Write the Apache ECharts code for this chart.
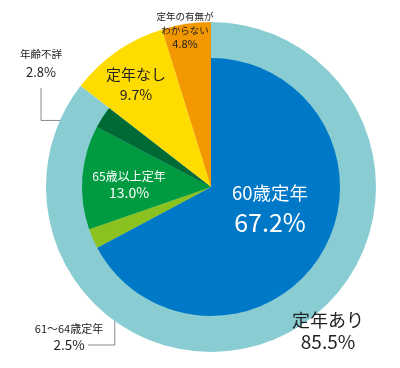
<!DOCTYPE html>
<html><head><meta charset="utf-8">
<script src="https://cdn.jsdelivr.net/npm/echarts@6/dist/echarts.min.js"></script>
<style>html,body{margin:0;padding:0;background:#fff}#c{width:400px;height:368px}</style>
</head><body><div id="c"></div>
<script>
// ---- data ----
const outerNames = ['定年あり', '定年なし', '定年の有無が\nわからない'];
const outerValues = [85.5, 9.7, 4.8];
const innerNames = ['60歳定年', '61～64歳定年', '65歳以上定年', '年齢不詳'];
const innerValues = [67.2, 2.5, 13.0, 2.8];

// ---- style ----
const outerColors = ['#89cdd3', '#ffdc00', '#f39800'];
const innerColors = ['#0078c8', '#8cc220', '#009a41', '#006a35'];
const FONT = 'Noto Sans CJK JP';
const CX = 211, CY = 187, R_OUT = 165, R_IN = 129;

const fillerValue = outerValues.slice(1).reduce((a, b) => a + b, 0);
const innerTotal = innerValues.reduce((a, b) => a + b, 0) + fillerValue;

function anchor(idx, r) {
  let cum = 0;
  for (let i = 0; i < idx; i++) cum += innerValues[i];
  const mid = (cum + innerValues[idx] / 2) / innerTotal * Math.PI * 2;
  return [CX + r * Math.sin(mid), CY - r * Math.cos(mid)];
}

const fmt = p => {
  const parts = p.name.split('\n');
  return parts.map(s => '{a|' + s + '}').join('\n') + '\n{b|' + p.value.toFixed(1) + '%}';
};

// label layouts (positions of annotation text)
const outerLabelCfg = [
  { x: 328, y: 331, rich: { a: { fontSize: 18, lineHeight: 22, color: '#222' }, b: { fontSize: 19, lineHeight: 22, color: '#222' } } },
  { x: 136, y: 84.5, rich: { a: { fontSize: 15, lineHeight: 20, color: '#222' }, b: { fontSize: 14, lineHeight: 21, color: '#222' } } },
  { x: 185, y: 30, rich: { a: { fontSize: 9.5, lineHeight: 14, color: '#222' }, b: { fontSize: 11, lineHeight: 14, color: '#222' } } }
];
const innerLabelCfg = [
  { x: 270, y: 209, rich: { a: { fontSize: 18.5, lineHeight: 26, color: '#fff' }, b: { fontSize: 25, lineHeight: 32, color: '#fff' } } },
  { x: 69, y: 337, rich: { a: { fontSize: 11, lineHeight: 16, color: '#222' }, b: { fontSize: 13.5, lineHeight: 16, color: '#222' } } },
  { x: 129, y: 184.5, rich: { a: { fontSize: 12, lineHeight: 16, color: '#fff' }, b: { fontSize: 14, lineHeight: 17, color: '#fff' } } },
  { x: 41, y: 63.5, rich: { a: { fontSize: 10.5, lineHeight: 17, color: '#222' }, b: { fontSize: 13, lineHeight: 19, color: '#222' } } }
];

const outerData = outerNames.map((n, i) => ({
  name: n, value: outerValues[i],
  itemStyle: { color: outerColors[i] },
  label: { show: true, position: i === 0 ? 'outside' : 'inside', formatter: fmt, rich: outerLabelCfg[i].rich, fontFamily: FONT },
  labelLine: { show: false }
}));

const leader = { 1: true, 3: true };
const innerData = innerNames.map((n, i) => ({
  name: n, value: innerValues[i],
  itemStyle: { color: innerColors[i] },
  label: { show: true, position: leader[i] ? 'outside' : 'inside', formatter: fmt, rich: innerLabelCfg[i].rich, fontFamily: FONT },
  labelLine: { show: !!leader[i], lineStyle: { color: '#8a8a8a', width: 1 } }
}));
innerData.push({ name: 'filler', value: fillerValue, itemStyle: { color: 'rgba(0,0,0,0)' }, label: { show: false }, labelLine: { show: false }, silent: true, emphasis: { disabled: true } });

const chart = echarts.init(document.getElementById('c'), null, { renderer: 'canvas' });
chart.setOption({
  animation: false,
  textStyle: { fontFamily: FONT },
  series: [
    {
      type: 'pie', center: [CX, CY], radius: [0, R_OUT], startAngle: 90, clockwise: true,
      avoidLabelOverlap: false, silent: true,
      data: outerData,
      labelLayout: p => {
        const c = outerLabelCfg[p.dataIndex];
        return { x: c.x, y: c.y, align: 'center', verticalAlign: 'middle' };
      }
    },
    {
      type: 'pie', center: [CX, CY], radius: [0, R_IN], startAngle: 90, clockwise: true,
      avoidLabelOverlap: false, silent: true,
      data: innerData,
      labelLayout: p => {
        const i = p.dataIndex;
        const c = innerLabelCfg[i];
        if (!c) return {};
        const res = { x: c.x, y: c.y, align: 'center', verticalAlign: 'middle' };
        if (i === 3) {
          const a = anchor(3, 123);
          res.labelLinePoints = [a, [c.x, a[1]], [c.x, 88]];
        } else if (i === 1) {
          const a = anchor(1, 105);
          res.labelLinePoints = [a, [a[0], 345], [88, 345]];
        }
        return res;
      }
    }
  ]
});
</script></body></html>
